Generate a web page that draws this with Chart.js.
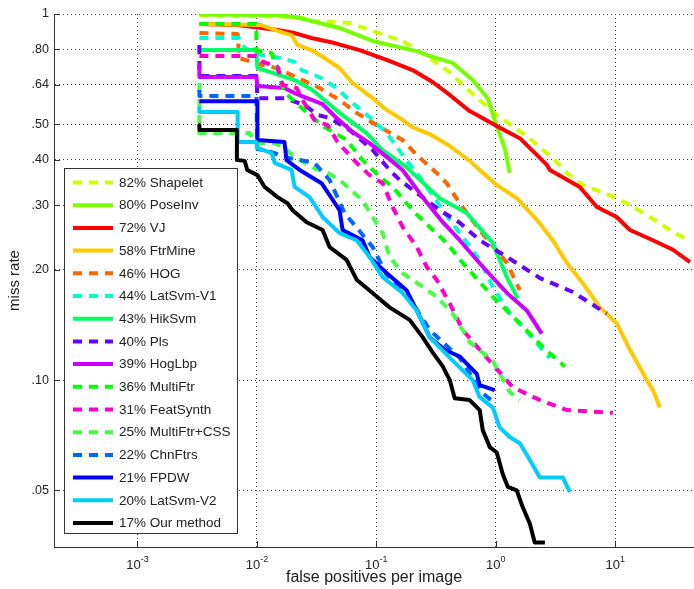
<!DOCTYPE html>
<html>
<head>
<meta charset="utf-8">
<title>Miss rate vs FPPI</title>
<script src="https://cdn.jsdelivr.net/npm/chart.js@4.4.0/dist/chart.umd.min.js"></script>
<style>
  html, body { margin: 0; padding: 0; background: #fff; }
  #roc { display: block; }
</style>
</head>
<body>
<canvas id="roc" width="694" height="589"></canvas>
<script>
// Curves: false positives per image / miss rate
const shapeletFp = [0.0033, 0.023, 0.029, 0.06, 0.088, 0.166, 0.28, 0.41, 0.6, 1.02, 1.82, 3.0, 3.94, 5.36, 9.0, 13.3, 19.5, 30.5, 38.4];
const shapeletMr = [0.994, 0.981, 0.957, 0.945, 0.904, 0.844, 0.758, 0.694, 0.616, 0.53, 0.464, 0.404, 0.368, 0.341, 0.32, 0.301, 0.279, 0.254, 0.244];

const poseInvFp = [0.0033, 0.0149, 0.0228, 0.0492, 0.0931, 0.218, 0.28, 0.436, 0.641, 0.857, 1.02, 1.19, 1.31];
const poseInvMr = [0.997, 0.994, 0.975, 0.916, 0.844, 0.792, 0.768, 0.735, 0.66, 0.589, 0.494, 0.43, 0.368];

const vjFp = [0.0033, 0.0069, 0.0149, 0.0207, 0.0287, 0.0447, 0.0724, 0.122, 0.201, 0.296, 0.412, 0.605, 1.02, 1.59, 2.68, 2.84, 5.06, 7.03, 10.3, 13.3, 20.7, 30.5, 42.3];
const vjMr = [0.939, 0.933, 0.904, 0.887, 0.86, 0.833, 0.797, 0.749, 0.703, 0.652, 0.601, 0.543, 0.494, 0.458, 0.387, 0.375, 0.337, 0.297, 0.279, 0.257, 0.241, 0.227, 0.21];

const ftrMineFp = [0.0033, 0.0109, 0.0149, 0.0195, 0.0219, 0.0287, 0.0369, 0.0492, 0.0633, 0.0931, 0.122, 0.157, 0.201, 0.28, 0.412, 0.605, 0.734, 1.02, 1.5, 2.21, 3.0, 3.94, 5.36, 7.44, 10.3, 13.3, 18.4, 20.7, 23.7];
const ftrMineMr = [0.939, 0.933, 0.899, 0.876, 0.823, 0.797, 0.758, 0.712, 0.648, 0.589, 0.547, 0.52, 0.491, 0.47, 0.436, 0.397, 0.375, 0.341, 0.314, 0.274, 0.241, 0.209, 0.184, 0.158, 0.143, 0.121, 0.1, 0.0939, 0.0842];

const hogFp = [0.0033, 0.0069, 0.0071, 0.0109, 0.0146, 0.0241, 0.0335, 0.0492, 0.0684, 0.107, 0.166, 0.218, 0.32, 0.388, 0.499, 0.734, 1.24, 1.59];
const hogMr = [0.887, 0.882, 0.758, 0.726, 0.712, 0.66, 0.628, 0.582, 0.537, 0.491, 0.453, 0.412, 0.368, 0.345, 0.304, 0.257, 0.209, 0.176];

const latSvmV1Fp = [0.0033, 0.0071, 0.0079, 0.0109, 0.0161, 0.0207, 0.0237, 0.0348, 0.0465, 0.0633, 0.0879, 0.122, 0.179, 0.231, 0.412, 0.734, 0.944, 1.31, 1.68, 2.21, 2.84];
const latSvmV1Mr = [0.86, 0.86, 0.807, 0.773, 0.758, 0.74, 0.703, 0.668, 0.628, 0.571, 0.523, 0.473, 0.399, 0.359, 0.274, 0.213, 0.18, 0.152, 0.14, 0.126, 0.115];

const hikSvmFp = [0.0033, 0.0099, 0.0101, 0.0146, 0.0207, 0.0292, 0.0335, 0.0492, 0.0829, 0.113, 0.179, 0.218, 0.34, 0.571, 0.944, 1.24, 1.53];
const hikSvmMr = [0.797, 0.797, 0.712, 0.685, 0.66, 0.62, 0.597, 0.537, 0.473, 0.425, 0.382, 0.359, 0.314, 0.286, 0.237, 0.191, 0.167];

const plsFp = [0.0033, 0.0033, 0.0099, 0.0101, 0.017, 0.0251, 0.0322, 0.0406, 0.0597, 0.0931, 0.129, 0.157, 0.231, 0.34, 0.499, 0.734, 1.24, 2.34, 4.42, 7.03, 8.51];
const plsMr = [0.823, 0.677, 0.677, 0.589, 0.589, 0.564, 0.53, 0.52, 0.482, 0.425, 0.375, 0.352, 0.32, 0.291, 0.269, 0.241, 0.217, 0.19, 0.174, 0.158, 0.152];

const hogLbpFp = [0.0033, 0.0033, 0.0099, 0.0101, 0.017, 0.0207, 0.0251, 0.0355, 0.0465, 0.0633, 0.0879, 0.122, 0.166, 0.244, 0.36, 0.499, 0.778, 1.24, 1.82, 2.43];
const hogLbpMr = [0.726, 0.673, 0.673, 0.636, 0.628, 0.608, 0.593, 0.567, 0.52, 0.476, 0.444, 0.407, 0.375, 0.316, 0.27, 0.241, 0.204, 0.173, 0.155, 0.134];

const multiFtrFp = [0.0033, 0.0099, 0.0099, 0.0133, 0.0149, 0.017, 0.0219, 0.0276, 0.0369, 0.0564, 0.0767, 0.107, 0.137, 0.201, 0.28, 0.388, 0.529, 0.944, 1.59, 2.48, 3.79];
const multiFtrMr = [0.939, 0.939, 0.797, 0.782, 0.703, 0.612, 0.567, 0.53, 0.491, 0.453, 0.399, 0.359, 0.337, 0.291, 0.262, 0.237, 0.209, 0.169, 0.143, 0.123, 0.109];

const featSynthFp = [0.0033, 0.0099, 0.0109, 0.0149, 0.0164, 0.0215, 0.0241, 0.0304, 0.0391, 0.0474, 0.0684, 0.0879, 0.113, 0.137, 0.166, 0.218, 0.264, 0.32, 0.412, 0.529, 0.734, 1.04, 1.39, 2.34, 3.94, 9.57];
const featSynthMr = [0.768, 0.768, 0.744, 0.717, 0.64, 0.628, 0.582, 0.513, 0.497, 0.447, 0.392, 0.363, 0.345, 0.297, 0.262, 0.231, 0.204, 0.188, 0.162, 0.137, 0.121, 0.1065, 0.0956, 0.0882, 0.0828, 0.0814];

const multiFtrCssFp = [0.0033, 0.0033, 0.0087, 0.0099, 0.0141, 0.017, 0.0207, 0.0251, 0.0304, 0.0383, 0.0492, 0.0767, 0.0931, 0.113, 0.129, 0.166, 0.244, 0.32, 0.436, 0.605, 0.944, 1.31, 1.59];
const multiFtrCssMr = [0.648, 0.473, 0.473, 0.444, 0.444, 0.431, 0.407, 0.392, 0.379, 0.37, 0.352, 0.31, 0.279, 0.252, 0.217, 0.196, 0.18, 0.169, 0.152, 0.127, 0.113, 0.0927, 0.0882];

const chnFtrsFp = [0.0033, 0.0033, 0.0099, 0.0101, 0.0116, 0.0188, 0.0304, 0.0406, 0.0542, 0.0931, 0.122, 0.19, 0.28, 0.499, 0.778, 0.981];
const chnFtrsMr = [0.62, 0.597, 0.597, 0.428, 0.425, 0.404, 0.392, 0.352, 0.286, 0.231, 0.194, 0.167, 0.137, 0.115, 0.0921, 0.0865];

const fpdwFp = [0.0033, 0.0101, 0.0101, 0.017, 0.0177, 0.0228, 0.0348, 0.0406, 0.0492, 0.0522, 0.0767, 0.0879, 0.122, 0.179, 0.218, 0.28, 0.374, 0.499, 0.693, 0.734, 0.981];
const fpdwMr = [0.578, 0.578, 0.453, 0.447, 0.399, 0.375, 0.345, 0.32, 0.291, 0.257, 0.241, 0.217, 0.196, 0.176, 0.155, 0.131, 0.121, 0.116, 0.104, 0.0969, 0.0939];

const latSvmV2Fp = [0.0033, 0.0033, 0.0069, 0.0069, 0.0099, 0.0101, 0.0133, 0.0141, 0.0195, 0.0207, 0.0276, 0.0355, 0.0492, 0.0684, 0.0879, 0.113, 0.166, 0.218, 0.28, 0.436, 0.641, 0.734, 0.944, 1.08, 1.31, 1.59, 1.93, 2.34, 3.65, 4.17];
const latSvmV2Mr = [0.553, 0.54, 0.54, 0.447, 0.447, 0.431, 0.417, 0.392, 0.375, 0.337, 0.316, 0.279, 0.252, 0.241, 0.217, 0.191, 0.173, 0.155, 0.131, 0.113, 0.1, 0.0898, 0.0842, 0.0742, 0.0699, 0.0672, 0.0605, 0.0542, 0.0542, 0.0494];

const oursFp = [0.0033, 0.0033, 0.0068, 0.0068, 0.0079, 0.0083, 0.0101, 0.0116, 0.0149, 0.018, 0.0199, 0.0261, 0.0355, 0.0406, 0.0564, 0.0684, 0.0931, 0.129, 0.19, 0.244, 0.296, 0.36, 0.412, 0.453, 0.605, 0.734, 0.778, 0.891, 1.02, 1.14, 1.26, 1.5, 1.68, 1.93, 2.12, 2.58];
const oursMr = [0.497, 0.482, 0.482, 0.399, 0.397, 0.375, 0.363, 0.337, 0.316, 0.304, 0.291, 0.27, 0.257, 0.231, 0.213, 0.188, 0.173, 0.158, 0.146, 0.131, 0.119, 0.109, 0.1, 0.0892, 0.0882, 0.0828, 0.073, 0.0656, 0.0634, 0.0556, 0.0511, 0.05, 0.045, 0.0405, 0.036, 0.036];

const methods = ['Shapelet', 'PoseInv', 'VJ', 'FtrMine', 'HOG', 'LatSvm-V1', 'HikSvm', 'Pls',
  'HogLbp', 'MultiFtr', 'FeatSynth', 'MultiFtr+CSS', 'ChnFtrs', 'FPDW', 'LatSvm-V2', 'Our method'];
const scores = ['82%', '80%', '72%', '58%', '46%', '44%', '43%', '40%',
  '39%', '36%', '31%', '25%', '22%', '21%', '20%', '17%'];

// axis ticks
const xTicks = [1e-3, 1e-2, 1e-1, 1, 10];
const xExponents = ['-3', '-2', '-1', '0', '1'];
const yTicks = [0.05, 0.1, 0.2, 0.3, 0.4, 0.5, 0.64, 0.8, 1];
const yTickLabels = ['.05', '.10', '.20', '.30', '.40', '.50', '.64', '.80', '1'];

// styles
const colors = ['#ccff00', '#77ff00', '#ff0000', '#ffc800', '#ff6600', '#00ffcc', '#00ff66', '#6600ff',
  '#cc00ff', '#00ff00', '#ff00cc', '#44ff44', '#0066ff', '#0000ff', '#00ccff', '#000000'];
const dashed = [true, false, false, false, true, true, false, true,
  false, true, true, true, true, false, false, false];

const series = [
  [shapeletFp, shapeletMr], [poseInvFp, poseInvMr], [vjFp, vjMr], [ftrMineFp, ftrMineMr],
  [hogFp, hogMr], [latSvmV1Fp, latSvmV1Mr], [hikSvmFp, hikSvmMr], [plsFp, plsMr],
  [hogLbpFp, hogLbpMr], [multiFtrFp, multiFtrMr], [featSynthFp, featSynthMr], [multiFtrCssFp, multiFtrCssMr],
  [chnFtrsFp, chnFtrsMr], [fpdwFp, fpdwMr], [latSvmV2Fp, latSvmV2Mr], [oursFp, oursMr]
];

const font = "'Liberation Sans', Arial, sans-serif";
const DASH = [9, 7];
Chart.defaults.font.family = font;
Chart.defaults.color = '#222';

const datasets = series.map(([fp, mr], i) => ({
  label: scores[i] + ' ' + methods[i],
  data: fp.map((x, j) => ({ x: x, y: mr[j] })),
  borderColor: colors[i],
  backgroundColor: colors[i],
  borderWidth: 4,
  borderDash: dashed[i] ? DASH : [],
  borderCapStyle: 'butt',
  borderJoinStyle: 'round',
  pointRadius: 0,
  tension: 0,
  fill: false,
  order: series.length - i   // last method ends up on top
}));

// MATLAB look: inside tick marks, 10^n labels, boxed legend
const matlabAxes = {
  id: 'matlabAxes',
  beforeDatasetsDraw(chart) {
    const { ctx, chartArea: area, scales: { x, y } } = chart;
    ctx.save();
    ctx.strokeStyle = '#333';
    ctx.lineWidth = 1;
    ctx.beginPath();
    xTicks.forEach(v => {
      const px = Math.round(x.getPixelForValue(v)) + 0.5;
      ctx.moveTo(px, area.bottom);
      ctx.lineTo(px, area.bottom - 6);
    });
    yTicks.forEach(v => {
      const py = Math.round(y.getPixelForValue(v)) + 0.5;
      ctx.moveTo(area.left, py);
      ctx.lineTo(area.left + 6, py);
    });
    ctx.stroke();
    ctx.restore();
  },
  afterDraw(chart) {
    const { ctx, chartArea: area, scales: { x } } = chart;
    ctx.save();

    // x tick labels as 10 with raised exponent
    ctx.fillStyle = '#222';
    ctx.textAlign = 'left';
    ctx.textBaseline = 'alphabetic';
    xTicks.forEach((v, i) => {
      ctx.font = '13px ' + font;
      const wBase = ctx.measureText('10').width;
      ctx.font = '9px ' + font;
      const wExp = ctx.measureText(xExponents[i]).width;
      const left = x.getPixelForValue(v) - (wBase + wExp) / 2;
      ctx.font = '13px ' + font;
      ctx.fillText('10', left, area.bottom + 22);
      ctx.font = '9px ' + font;
      ctx.fillText(xExponents[i], left + wBase, area.bottom + 15);
    });

    // legend box
    const bx = area.left + 10, by = area.top + 154, bw = 173, bh = 365;
    ctx.fillStyle = '#fff';
    ctx.fillRect(bx, by, bw, bh);
    ctx.strokeStyle = '#333';
    ctx.lineWidth = 1;
    ctx.strokeRect(bx + 0.5, by + 0.5, bw, bh);

    ctx.font = '13.5px ' + font;
    ctx.textBaseline = 'middle';
    chart.data.datasets.forEach((ds, i) => {
      const ly = by + 14.5 + i * 22.7;
      ctx.strokeStyle = ds.borderColor;
      ctx.lineWidth = 4;
      ctx.lineCap = 'butt';
      ctx.setLineDash(ds.borderDash);
      ctx.beginPath();
      ctx.moveTo(bx + 9, ly);
      ctx.lineTo(bx + 49, ly);
      ctx.stroke();
      ctx.setLineDash([]);
      ctx.fillStyle = '#222';
      ctx.fillText(ds.label, bx + 55, ly + 0.5);
    });
    ctx.restore();
  }
};

new Chart(document.getElementById('roc'), {
  type: 'line',
  data: { datasets: datasets },
  plugins: [matlabAxes],
  options: {
    responsive: false,
    devicePixelRatio: 1,
    animation: false,
    layout: { padding: { top: 14, right: 0, bottom: 0, left: 0 } },
    plugins: {
      legend: { display: false },
      tooltip: { enabled: false }
    },
    scales: {
      x: {
        type: 'logarithmic',
        min: 2e-4,
        max: 45.7,
        afterBuildTicks: scale => { scale.ticks = xTicks.map(v => ({ value: v })); },
        afterFit: scale => { scale.height = 42; },
        ticks: { display: false },
        grid: { color: '#444', lineWidth: 1, drawTicks: false, borderDash: [1, 3] },
        border: { display: true, color: '#333', width: 1, dash: [1, 3] },
        title: {
          display: true,
          text: 'false positives per image',
          font: { size: 16 },
          color: '#222',
          padding: { top: 0, bottom: 2 }
        }
      },
      y: {
        type: 'logarithmic',
        min: 0.035,
        max: 1,
        afterBuildTicks: scale => { scale.ticks = yTicks.map(v => ({ value: v })); },
        afterFit: scale => { scale.width = 54; },
        ticks: {
          font: { size: 12.5 },
          color: '#222',
          padding: 5,
          callback: v => yTickLabels[yTicks.indexOf(v)] ?? ''
        },
        grid: { color: '#444', lineWidth: 1, drawTicks: false },
        border: { display: true, color: '#333', width: 1, dash: [1, 3] },
        title: {
          display: true,
          text: 'miss rate',
          font: { size: 15 },
          color: '#222',
          padding: { top: 6, bottom: 0 }
        }
      }
    }
  }
});
</script>
</body>
</html>
